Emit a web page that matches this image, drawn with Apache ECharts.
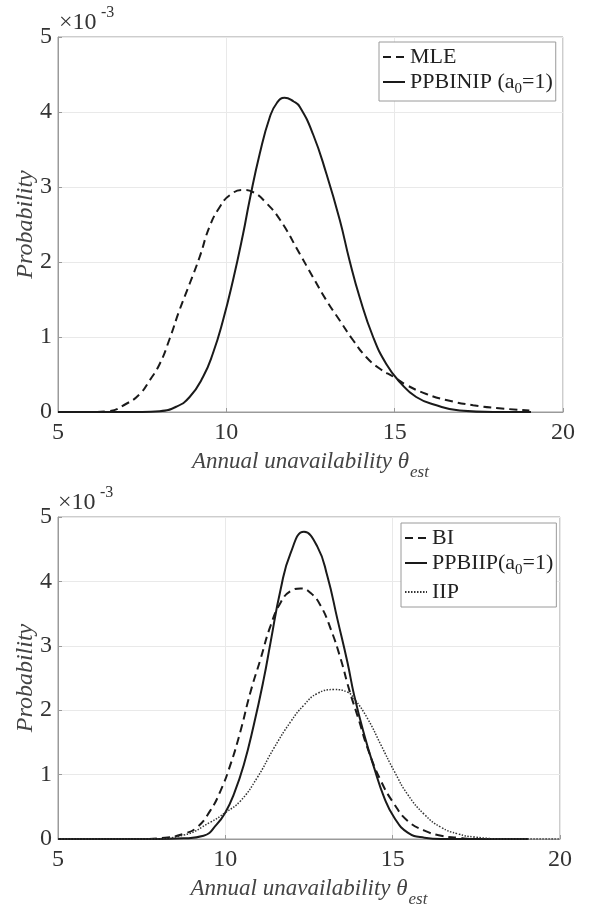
<!DOCTYPE html>
<html><head><meta charset="utf-8">
<script src="https://cdn.jsdelivr.net/npm/echarts@6/dist/echarts.min.js"></script>
<style>html,body{margin:0;padding:0;background:#fff}#c{width:591px;height:909px}</style>
</head><body><div id="c"></div>
<script>
// ---- data (probability values in units of 1e-3) ----
const xTickValues = [5, 10, 15, 20];
const yTickLabels = ['0', '1', '2', '3', '4', '5'];

// Top panel
const mleX = [5.0, 6.0, 6.5, 7.03, 7.43, 7.72, 8.02, 8.32, 8.61, 8.91, 9.21, 9.5, 9.8, 10.1, 10.5, 10.8, 11.2, 11.6, 12.18, 12.57, 12.97, 13.37, 13.76, 14.16, 14.55, 15.0, 15.35, 15.94, 16.53, 17.33, 18.1, 19.0];
const mleY = [0, 0, 0.01, 0.11, 0.24, 0.42, 0.64, 0.98, 1.36, 1.71, 2.07, 2.47, 2.73, 2.89, 2.96, 2.93, 2.78, 2.56, 2.11, 1.80, 1.49, 1.22, 0.96, 0.73, 0.58, 0.46, 0.36, 0.24, 0.16, 0.09, 0.05, 0.02];

const ppbinipX = [5.0, 7.5, 8.02, 8.51, 8.91, 9.31, 9.6, 9.9, 10.2, 10.5, 10.69, 10.99, 11.29, 11.5, 11.73, 12.0, 12.18, 12.57, 12.97, 13.37, 13.66, 13.96, 14.36, 14.75, 15.15, 15.64, 16.24, 16.93, 17.92, 19.05];
const ppbinipY = [0, 0, 0.01, 0.07, 0.20, 0.47, 0.78, 1.22, 1.76, 2.38, 2.82, 3.44, 3.93, 4.12, 4.19, 4.14, 4.07, 3.71, 3.18, 2.56, 2.02, 1.53, 1.00, 0.64, 0.40, 0.20, 0.09, 0.02, 0, 0];

// Bottom panel
const biX = [5.0, 7.5, 8.2, 8.75, 9.15, 9.55, 9.85, 10.15, 10.45, 10.75, 11.05, 11.35, 11.65, 11.95, 12.25, 12.55, 12.85, 13.15, 13.45, 13.7, 14.0, 14.25, 14.65, 15.05, 15.45, 15.95, 16.45, 16.95, 17.45, 19.05];
const biY = [0, 0, 0.02, 0.08, 0.18, 0.44, 0.74, 1.15, 1.67, 2.28, 2.79, 3.31, 3.67, 3.85, 3.89, 3.82, 3.62, 3.26, 2.79, 2.32, 1.83, 1.41, 0.90, 0.54, 0.28, 0.13, 0.05, 0.02, 0, 0];

const ppbiipX = [5.0, 8.0, 8.75, 9.35, 9.75, 10.0, 10.25, 10.55, 10.85, 11.15, 11.35, 11.65, 11.95, 12.35, 12.75, 13.05, 13.35, 13.65, 13.85, 14.15, 14.45, 14.75, 15.05, 15.45, 15.95, 16.45, 19.05];
const ppbiipY = [0, 0, 0.01, 0.05, 0.23, 0.41, 0.69, 1.15, 1.77, 2.49, 3.05, 3.87, 4.44, 4.77, 4.54, 4.08, 3.41, 2.74, 2.23, 1.62, 1.10, 0.64, 0.33, 0.10, 0.02, 0, 0];

const iipX = [5.0, 7.75, 8.75, 9.55, 10.0, 10.45, 10.95, 11.45, 11.95, 12.35, 12.75, 13.25, 13.65, 13.85, 14.25, 14.65, 15.05, 15.45, 15.95, 16.45, 16.95, 17.45, 18.45, 20.0];
const iipY = [0, 0, 0.06, 0.26, 0.41, 0.59, 0.95, 1.41, 1.82, 2.08, 2.26, 2.32, 2.28, 2.18, 1.87, 1.46, 1.05, 0.69, 0.38, 0.18, 0.08, 0.03, 0, 0];

const pairs = (xs, ys) => xs.map((x, i) => [x, ys[i]]);

// ---- styling ----
const FONT = 'Liberation Serif';
const AX = '#9a9a9a';
const TXT = '#333';
const INK = '#1a1a1a';

function xAxisCfg(gi) {
  return {
    type: 'value', gridIndex: gi, min: 5, max: 20, interval: 5,
    axisLine: { show: true, lineStyle: { color: AX, width: 1 } },
    axisTick: { show: true, inside: true, length: 4, lineStyle: { color: AX } },
    axisLabel: { fontFamily: FONT, fontSize: 24, color: TXT, margin: 9,
      formatter: v => xTickValues.includes(v) ? String(v) : '' },
    splitLine: { show: true, lineStyle: { color: '#e9e9e9', width: 1 } },
    name: '{t|Annual unavailability θ}{s|est}',
    nameLocation: 'middle', nameGap: 30, nameMoveOverlap: false,
    nameTextStyle: { fontFamily: FONT, fontStyle: 'italic', fontSize: 23, color: '#444',
      rich: {
        t: { fontFamily: FONT, fontStyle: 'italic', fontSize: 23, color: '#444' },
        s: { fontFamily: FONT, fontStyle: 'italic', fontSize: 17, color: '#444', padding: [22, 0, 0, 1] }
      } }
  };
}
function yAxisCfg(gi) {
  return {
    type: 'value', gridIndex: gi, min: 0, max: 5, interval: 1,
    axisLine: { show: true, lineStyle: { color: AX, width: 1 } },
    axisTick: { show: true, inside: true, length: 4, lineStyle: { color: AX } },
    axisLabel: { fontFamily: FONT, fontSize: 24, color: TXT, margin: 6,
      formatter: v => yTickLabels[Math.round(v)] },
    splitLine: { show: true, lineStyle: { color: '#e9e9e9', width: 1 } },
    name: 'Probability', nameLocation: 'middle', nameGap: 20, nameMoveOverlap: false,
    nameTextStyle: { fontFamily: FONT, fontStyle: 'italic', fontSize: 24, color: '#444' }
  };
}
function lineSeries(name, gi, xs, ys, type, width, color) {
  return {
    name, type: 'line', xAxisIndex: gi, yAxisIndex: gi,
    data: pairs(xs, ys), showSymbol: false, symbol: 'none',
    smooth: 0.5,
    lineStyle: { color, width, type },
    itemStyle: { color },
    z: 3
  };
}
const legendRich = {
  n: { fontFamily: FONT, fontSize: 22, color: '#222' },
  s: { fontFamily: FONT, fontSize: 15, color: '#222', padding: [15, 0, 0, 0] }
};
const legendNames = {
  'MLE': '{n|MLE}',
  'PPBINIP': '{n|PPBINIP (a}{s|0}{n|=1)}',
  'BI': '{n|BI}',
  'PPBIIP': '{n|PPBIIP(a}{s|0}{n|=1)}',
  'IIP': '{n|IIP}'
};
function legendCfg(names, left, top, gap) {
  return {
    data: names, orient: 'vertical', left, top,
    backgroundColor: '#fff', borderColor: AX, borderWidth: 1,
    padding: [4, 3, 4, 3], itemGap: gap, itemWidth: 22, itemHeight: 14, itemTextGap: 3,
    selectedMode: false,
    itemStyle: { color: 'rgba(0,0,0,0)', borderColor: 'rgba(0,0,0,0)', borderWidth: 0 },
    formatter: n => legendNames[n],
    textStyle: { fontFamily: FONT, fontSize: 22, color: '#222', rich: legendRich }
  };
}

const chart = echarts.init(document.getElementById('c'), null, { renderer: 'canvas' });
chart.setOption({
  animation: false,
  backgroundColor: '#fff',
  grid: [
    { left: 58, top: 37, width: 505, height: 375, show: true, borderColor: AX, borderWidth: 1, backgroundColor: 'transparent' },
    { left: 58, top: 517, width: 502, height: 325, show: true, borderColor: AX, borderWidth: 1, backgroundColor: 'transparent' }
  ],
  xAxis: [xAxisCfg(0), xAxisCfg(1)],
  yAxis: [yAxisCfg(0), yAxisCfg(1)],
  legend: [
    legendCfg(['MLE', 'PPBINIP'], 379, 42, 3),
    legendCfg(['BI', 'PPBIIP', 'IIP'], 401, 523, 3)
  ],
  graphic: [
    { type: 'text', left: 59, top: 11, style: { text: '×10', font: '24px "Liberation Serif"', fill: TXT } },
    { type: 'text', left: 101, top: 5, style: { text: '-3', font: '16px "Liberation Serif"', fill: TXT } },
    { type: 'text', left: 58, top: 491, style: { text: '×10', font: '24px "Liberation Serif"', fill: TXT } },
    { type: 'text', left: 100, top: 485, style: { text: '-3', font: '16px "Liberation Serif"', fill: TXT } }
  ],
  series: [
    lineSeries('MLE', 0, mleX, mleY, [8, 5], 2, INK),
    lineSeries('PPBINIP', 0, ppbinipX, ppbinipY, 'solid', 2, INK),
    lineSeries('BI', 1, biX, biY, [8, 5], 2, INK),
    lineSeries('PPBIIP', 1, ppbiipX, ppbiipY, 'solid', 2, INK),
    lineSeries('IIP', 1, iipX, iipY, [1.5, 1.5], 1.5, '#333')
  ]
});
</script>
</body></html>
